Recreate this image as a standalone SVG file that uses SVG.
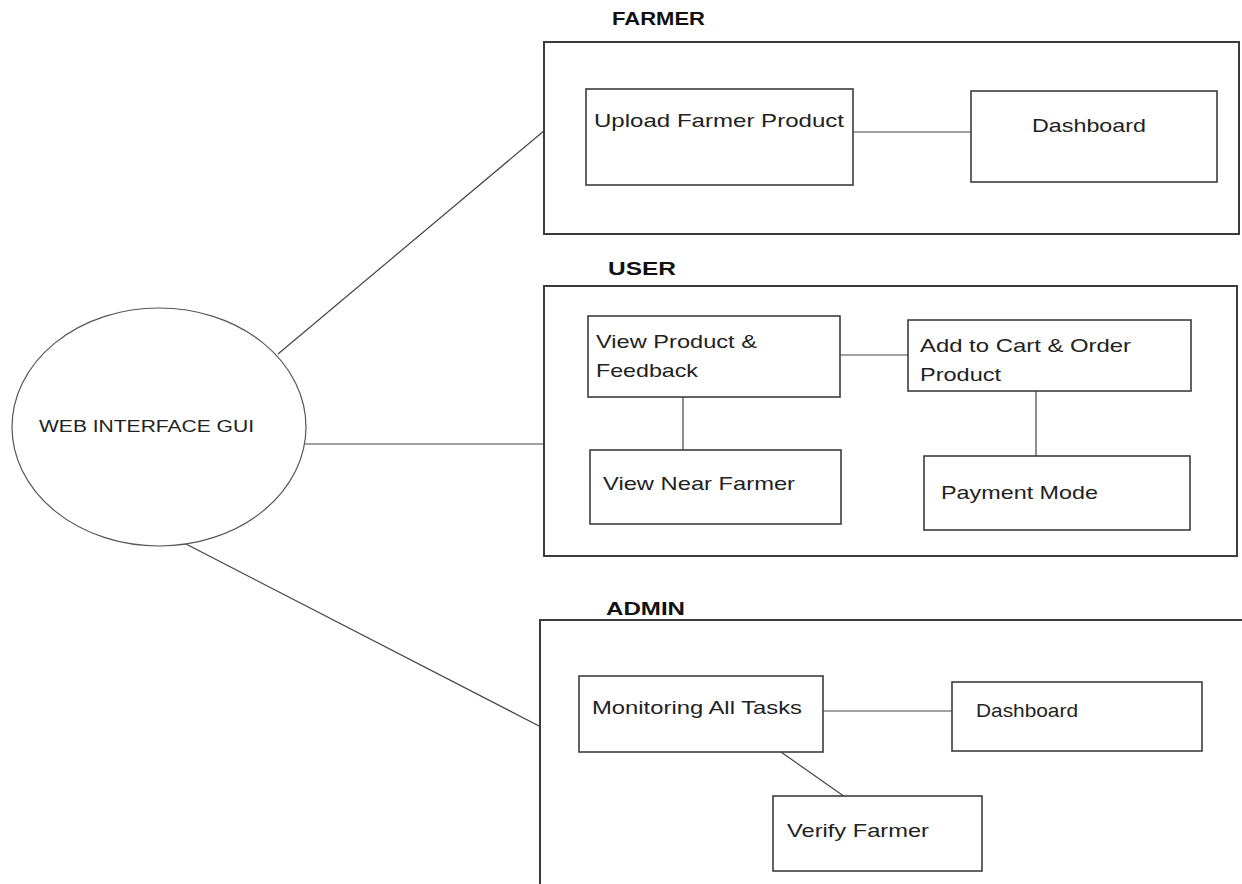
<svg xmlns="http://www.w3.org/2000/svg" width="1242" height="884" viewBox="0 0 1242 884">
<style>
.bg{fill:#ffffff}
.outer{fill:none;stroke:#3c3c3c;stroke-width:2}
.box{fill:#ffffff;stroke:#3c3c3c;stroke-width:1.6}
.conn{fill:none;stroke:#444;stroke-width:1.2}
.ell{fill:#ffffff;stroke:#555;stroke-width:1.2}
.t{font-family:"Liberation Sans",Arial,sans-serif;font-size:19px;fill:#222}
.h{font-family:"Liberation Sans",Arial,sans-serif;font-size:18px;font-weight:bold;fill:#111}
.e{font-family:"Liberation Sans",Arial,sans-serif;font-size:16px;fill:#222}
</style>
<rect class="bg" x="0" y="0" width="1242" height="884"/>
<g id="connectors">
<line class="conn" x1="278" y1="354" x2="545" y2="130"/>
<line class="conn" x1="305" y1="444" x2="544" y2="444"/>
<line class="conn" x1="186" y1="544" x2="541" y2="727"/>
<line class="conn" x1="853" y1="132" x2="971" y2="132"/>
<line class="conn" x1="840" y1="355" x2="908" y2="355"/>
<line class="conn" x1="683" y1="397" x2="683" y2="450"/>
<line class="conn" x1="1036" y1="391" x2="1036" y2="456"/>
<line class="conn" x1="823" y1="711" x2="952" y2="711"/>
<line class="conn" x1="781" y1="752" x2="845" y2="797"/>
</g>
<g id="web-interface">
<ellipse class="ell" cx="159" cy="427" rx="147" ry="119"/>
<text class="e" x="39" y="432" textLength="215" lengthAdjust="spacingAndGlyphs">WEB INTERFACE GUI</text>
</g>
<g id="farmer">
<text class="h" x="612" y="25" textLength="93" lengthAdjust="spacingAndGlyphs">FARMER</text>
<rect class="outer" x="544" y="42" width="695" height="192"/>
</g>
<g id="upload-farmer-product">
<rect class="box" x="586" y="89" width="267" height="96"/>
<text class="t" x="594" y="127" textLength="250" lengthAdjust="spacingAndGlyphs">Upload Farmer Product</text>
</g>
<g id="farmer-dashboard">
<rect class="box" x="971" y="91" width="246" height="91"/>
<text class="t" x="1032" y="132" textLength="114" lengthAdjust="spacingAndGlyphs">Dashboard</text>
</g>
<g id="user">
<text class="h" x="608" y="275" textLength="68" lengthAdjust="spacingAndGlyphs">USER</text>
<rect class="outer" x="544" y="286" width="693" height="270"/>
</g>
<g id="view-product-feedback">
<rect class="box" x="588" y="316" width="252" height="81"/>
<text class="t" x="596" y="348" textLength="161" lengthAdjust="spacingAndGlyphs">View Product &amp;</text>
<text class="t" x="596" y="377" textLength="102" lengthAdjust="spacingAndGlyphs">Feedback</text>
</g>
<g id="add-to-cart">
<rect class="box" x="908" y="320" width="283" height="71"/>
<text class="t" x="920" y="352" textLength="211" lengthAdjust="spacingAndGlyphs">Add to Cart &amp; Order</text>
<text class="t" x="920" y="381" textLength="81" lengthAdjust="spacingAndGlyphs">Product</text>
</g>
<g id="view-near-farmer">
<rect class="box" x="590" y="450" width="251" height="74"/>
<text class="t" x="603" y="490" textLength="192" lengthAdjust="spacingAndGlyphs">View Near Farmer</text>
</g>
<g id="payment-mode">
<rect class="box" x="924" y="456" width="266" height="74"/>
<text class="t" x="941" y="499" textLength="157" lengthAdjust="spacingAndGlyphs">Payment Mode</text>
</g>
<g id="admin">
<text class="h" x="606" y="615" textLength="79" lengthAdjust="spacingAndGlyphs">ADMIN</text>
<rect class="outer" x="540" y="620" width="710" height="300"/>
</g>
<g id="monitoring">
<rect class="box" x="579" y="676" width="244" height="76"/>
<text class="t" x="592" y="714" textLength="210" lengthAdjust="spacingAndGlyphs">Monitoring All Tasks</text>
</g>
<g id="admin-dashboard">
<rect class="box" x="952" y="682" width="250" height="69"/>
<text class="t" x="976" y="717" textLength="102" lengthAdjust="spacingAndGlyphs">Dashboard</text>
</g>
<g id="verify-farmer">
<rect class="box" x="773" y="796" width="209" height="75"/>
<text class="t" x="787" y="837" textLength="142" lengthAdjust="spacingAndGlyphs">Verify Farmer</text>
</g>
</svg>
